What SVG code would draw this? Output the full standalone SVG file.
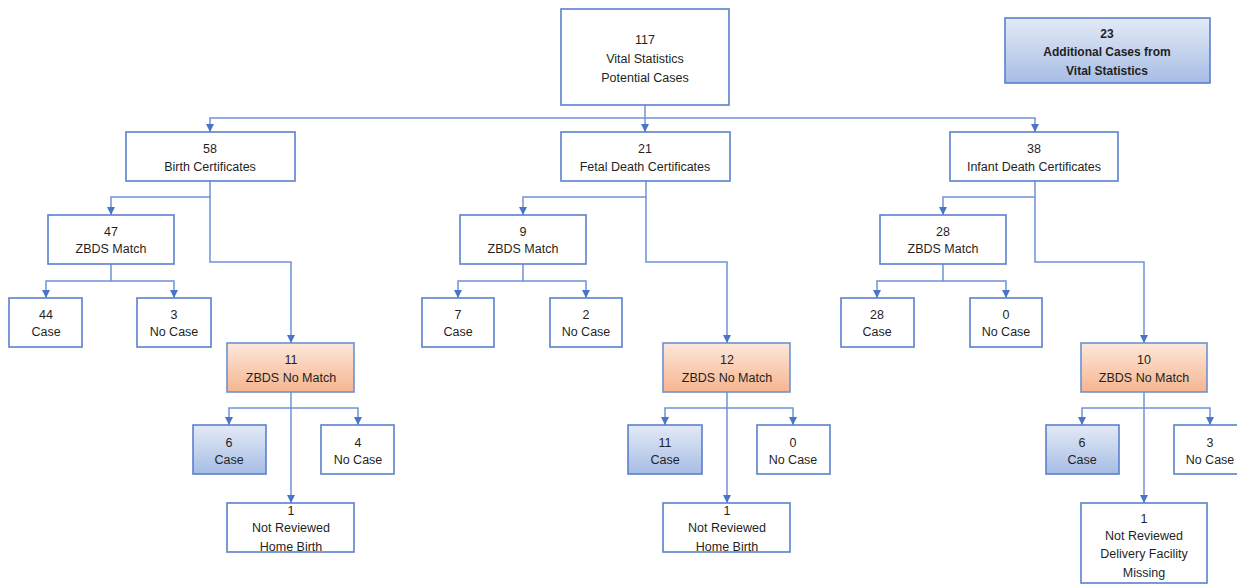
<svg xmlns="http://www.w3.org/2000/svg" width="1237" height="585" viewBox="0 0 1237 585">
<style>
.box{fill:#ffffff;stroke:#5b80cc;stroke-width:1.6}
.org{fill:url(#gOrange);stroke:#6f90d4;stroke-width:1.6}
.blu{fill:url(#gBlue);stroke:#5b80cc;stroke-width:1.6}
text{font-family:"Liberation Sans",Arial,sans-serif;font-size:12.5px;fill:#1f1f1f;text-anchor:middle}
.b{font-weight:bold;font-size:12px}
.con path{fill:none;stroke:#6f92d6;stroke-width:1.5;marker-end:url(#arr)}
</style>
<defs>
<linearGradient id="gBlue" x1="0" y1="0" x2="0" y2="1">
<stop offset="0" stop-color="#e3eaf6"/><stop offset="1" stop-color="#a7bde5"/>
</linearGradient>
<linearGradient id="gOrange" x1="0" y1="0" x2="0" y2="1">
<stop offset="0" stop-color="#fde8dc"/><stop offset="1" stop-color="#f5b58f"/>
</linearGradient>
<marker id="arr" markerUnits="userSpaceOnUse" markerWidth="9" markerHeight="9" refX="8" refY="4.5" orient="auto">
<path d="M0,0.5 L8,4.5 L0,8.5 z" fill="#4a74c8"/>
</marker>
</defs>
<g class="con" id="connectors">
<path d="M645,105 V132"/>
<path d="M645,118 H210 V132"/>
<path d="M645,118 H1035 V132"/>
<path d="M210,181 V197 H111 V215"/>
<path d="M210,197 V262 H291 V343"/>
<path d="M111,264 V281 H46 V298"/>
<path d="M111,281 H174 V298"/>
<path d="M291,392 V408 H229 V425"/>
<path d="M291,408 H358 V425"/>
<path d="M291,408 V503"/>
<path d="M646,181 V197 H523 V215"/>
<path d="M646,197 V262 H727 V343"/>
<path d="M523,264 V281 H458 V298"/>
<path d="M523,281 H586 V298"/>
<path d="M727,392 V408 H665 V425"/>
<path d="M727,408 H793 V425"/>
<path d="M727,408 V503"/>
<path d="M1035,181 V197 H943 V215"/>
<path d="M1035,197 V262 H1144 V343"/>
<path d="M943,264 V281 H877 V298"/>
<path d="M943,281 H1006 V298"/>
<path d="M1144,392 V408 H1082 V425"/>
<path d="M1144,408 H1210 V425"/>
<path d="M1144,408 V503"/>
</g>
<g id="n117"><rect class="box" x="561" y="9" width="168" height="96"/><text x="645" y="43.5">117</text><text x="645" y="62.5">Vital Statistics</text><text x="645" y="81.5">Potential Cases</text></g>
<g id="n23"><rect class="blu" x="1005" y="18" width="205" height="65"/><text class="b" x="1107" y="37.5">23</text><text class="b" x="1107" y="55.5">Additional Cases from</text><text class="b" x="1107" y="74.5">Vital Statistics</text></g>
<g id="n58"><rect class="box" x="126" y="132" width="169" height="49"/><text x="210" y="152.5">58</text><text x="210" y="170.5">Birth Certificates</text></g>
<g id="n21"><rect class="box" x="561" y="132" width="169" height="49"/><text x="645" y="152.5">21</text><text x="645" y="170.5">Fetal Death Certificates</text></g>
<g id="n38"><rect class="box" x="950" y="132" width="168" height="49"/><text x="1034" y="152.5">38</text><text x="1034" y="170.5">Infant Death Certificates</text></g>
<g id="n47"><rect class="box" x="48" y="215" width="126" height="49"/><text x="111" y="235.5">47</text><text x="111" y="252.5">ZBDS Match</text></g>
<g id="n9"><rect class="box" x="460" y="215" width="126" height="49"/><text x="523" y="235.5">9</text><text x="523" y="252.5">ZBDS Match</text></g>
<g id="n28"><rect class="box" x="880" y="215" width="126" height="49"/><text x="943" y="235.5">28</text><text x="943" y="252.5">ZBDS Match</text></g>
<g id="n44"><rect class="box" x="9" y="298" width="73" height="49"/><text x="46" y="318.5">44</text><text x="46" y="335.5">Case</text></g>
<g id="n3a"><rect class="box" x="137" y="298" width="74" height="49"/><text x="174" y="318.5">3</text><text x="174" y="335.5">No Case</text></g>
<g id="n7"><rect class="box" x="422" y="298" width="72" height="49"/><text x="458" y="318.5">7</text><text x="458" y="335.5">Case</text></g>
<g id="n2"><rect class="box" x="550" y="298" width="72" height="49"/><text x="586" y="318.5">2</text><text x="586" y="335.5">No Case</text></g>
<g id="n28c"><rect class="box" x="841" y="298" width="73" height="49"/><text x="877" y="318.5">28</text><text x="877" y="335.5">Case</text></g>
<g id="n0a"><rect class="box" x="970" y="298" width="72" height="49"/><text x="1006" y="318.5">0</text><text x="1006" y="335.5">No Case</text></g>
<g id="n11"><rect class="org" x="227" y="343" width="127" height="49"/><text x="291" y="363.5">11</text><text x="291" y="381.5">ZBDS No Match</text></g>
<g id="n12"><rect class="org" x="663" y="343" width="127" height="49"/><text x="727" y="363.5">12</text><text x="727" y="381.5">ZBDS No Match</text></g>
<g id="n10"><rect class="org" x="1081" y="343" width="126" height="49"/><text x="1144" y="363.5">10</text><text x="1144" y="381.5">ZBDS No Match</text></g>
<g id="n6a"><rect class="blu" x="193" y="425" width="73" height="49"/><text x="229" y="446.5">6</text><text x="229" y="463.5">Case</text></g>
<g id="n4"><rect class="box" x="321" y="425" width="73" height="49"/><text x="358" y="446.5">4</text><text x="358" y="463.5">No Case</text></g>
<g id="n11c"><rect class="blu" x="628" y="425" width="74" height="49"/><text x="665" y="446.5">11</text><text x="665" y="463.5">Case</text></g>
<g id="n0b"><rect class="box" x="757" y="425" width="73" height="49"/><text x="793" y="446.5">0</text><text x="793" y="463.5">No Case</text></g>
<g id="n6b"><rect class="blu" x="1046" y="425" width="73" height="49"/><text x="1082" y="446.5">6</text><text x="1082" y="463.5">Case</text></g>
<g id="n3b"><rect class="box" x="1174" y="425" width="72" height="49"/><text x="1210" y="446.5">3</text><text x="1210" y="463.5">No Case</text></g>
<g id="n1a"><rect class="box" x="227" y="503" width="127" height="49"/><text x="291" y="514.5">1</text><text x="291" y="531.5">Not Reviewed</text><text x="291" y="550.5">Home Birth</text></g>
<g id="n1b"><rect class="box" x="663" y="503" width="127" height="49"/><text x="727" y="514.5">1</text><text x="727" y="531.5">Not Reviewed</text><text x="727" y="550.5">Home Birth</text></g>
<g id="n1c"><rect class="box" x="1081" y="503" width="126" height="80"/><text x="1144" y="522.5">1</text><text x="1144" y="539.5">Not Reviewed</text><text x="1144" y="557.5">Delivery Facility</text><text x="1144" y="576.5">Missing</text></g>
</svg>
